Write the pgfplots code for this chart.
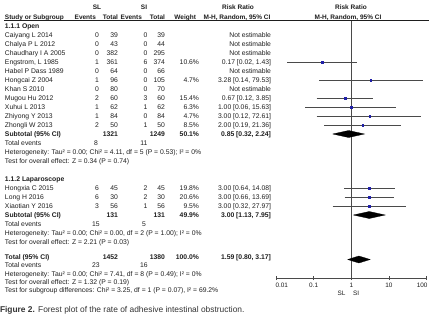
\documentclass[border=0pt]{standalone}
\usepackage{pgfplots}
\pgfplotsset{compat=1.18}
\usepackage{pgfplotstable}
\usepackage{fontspec}
\setmainfont{Liberation Sans}

\definecolor{txt}{HTML}{1E1E1E}
\definecolor{capc}{HTML}{333333}
\definecolor{sq}{HTML}{2020A8}
\definecolor{ciline}{HTML}{4A4A4A}

\newcommand\tab{\fontsize{6.8}{8}\selectfont}
\newcommand\head{\fontsize{6.5}{8}\selectfont\bfseries}
\newcommand\ticks{\fontsize{6.4}{7.5}\selectfont}
\newcommand\capfont{\fontsize{8.4}{10}\selectfont}

% study estimates: row position, risk ratio, 95% CI, weight (%)
\pgfplotstableread{
row   est   lo    hi     w
62    0.17  0.02  1.43   10.6
80    3.28  0.14  79.53  4.7
98    0.67  0.12  3.85   15.4
107   1.00  0.06  15.63  6.3
116   3.00  0.12  72.61  4.7
125   2.00  0.19  21.36  8.5
188   3.00  0.64  14.08  19.8
197   3.00  0.66  13.69  20.6
206   3.00  0.32  27.97  9.5
}\studies

% one table row: [font] centre-y, study, events/total SL, events/total SI, weight, RR
\newcommand\trow[9][]{%
  \node[anchor=base west] at (5,{#2+2.4}) {#1#3};
  \node[anchor=base east] at (99,{#2+2.4}) {#1#4};
  \node[anchor=base east] at (118,{#2+2.4}) {#1#5};
  \node[anchor=base east] at (147.5,{#2+2.4}) {#1#6};
  \node[anchor=base east] at (165,{#2+2.4}) {#1#7};
  \node[anchor=base east] at (199,{#2+2.4}) {#1#8};
  \node[anchor=base east] at (271,{#2+2.4}) {#1#9};
}
\newcommand\events[3]{%
  \node[anchor=base west] at (5,{#1+2.4}) {Total events};
  \node[anchor=base] at (96,{#1+2.4}) {#2};
  \node[anchor=base] at (144,{#1+2.4}) {#3};
}
\newcommand\note[2]{\node[anchor=base west] at (5,{#1+2.4}) {#2};}

\begin{document}
\begin{tikzpicture}[x=1pt,y=-1pt,
  every node/.style={inner sep=0pt, outer sep=0pt, text=txt, font=\tab}]

% column headings
\node[anchor=base, font=\head] at (97,9.4) {SL};
\node[anchor=base, font=\head] at (144,9.4) {SI};
\node[anchor=base, font=\head] at (238,9.4) {Risk Ratio};
\node[anchor=base, font=\head] at (351,9.4) {Risk Ratio};
\node[anchor=base west, font=\head] at (5,19.2) {Study or Subgroup};
\node[anchor=base east, font=\head] at (96,19.2) {Events};
\node[anchor=base east, font=\head] at (118,19.2) {Total};
\node[anchor=base east, font=\head] at (142,19.2) {Events};
\node[anchor=base east, font=\head] at (165,19.2) {Total};
\node[anchor=base east, font=\head] at (196,19.2) {Weight};
\node[anchor=base, font=\head] at (237,19.2) {M-H, Random, 95\% CI};
\node[anchor=base, font=\head] at (348,19.2) {M-H, Random, 95\% CI};
\draw[txt, line width=0.6pt] (4,20.7) -- (429,20.7);

% 1.1.1 Open
\note{26.5}{\bfseries 1.1.1 Open}
\trow{35}{Caiyang L 2014}{0}{39}{0}{39}{}{Not estimable}
\trow{44}{Chalya P L 2012}{0}{43}{0}{44}{}{Not estimable}
\trow{53}{Chaudhary I A 2005}{0}{382}{0}{295}{}{Not estimable}
\trow{62}{Engstrom, L 1985}{1}{361}{6}{374}{10.6\%}{0.17 [0.02, 1.43]}
\trow{71}{Habel P Dass 1989}{0}{64}{0}{66}{}{Not estimable}
\trow{80}{Hongcai Z 2004}{1}{96}{0}{105}{4.7\%}{3.28 [0.14, 79.53]}
\trow{89}{Khan S 2010}{0}{80}{0}{70}{}{Not estimable}
\trow{98}{Mugou Hu 2012}{2}{60}{3}{60}{15.4\%}{0.67 [0.12, 3.85]}
\trow{107}{Xuhui L 2013}{1}{62}{1}{62}{6.3\%}{1.00 [0.06, 15.63]}
\trow{116}{Zhiyong Y 2013}{1}{84}{0}{84}{4.7\%}{3.00 [0.12, 72.61]}
\trow{125}{Zhongli W 2013}{2}{50}{1}{50}{8.5\%}{2.00 [0.19, 21.36]}
\trow[\bfseries]{134}{Subtotal (95\% CI)}{}{1321}{}{1249}{50.1\%}{0.85 [0.32, 2.24]}
\events{143}{8}{11}
\note{152}{Heterogeneity: Tau² = 0.00; Chi² = 4.11, df = 5 (P = 0.53); I² = 0\%}
\note{161}{Test for overall effect: Z = 0.34 (P = 0.74)}

% 1.1.2 Laparoscope
\note{179}{\bfseries 1.1.2 Laparoscope}
\trow{188}{Hongxia C 2015}{6}{45}{2}{45}{19.8\%}{3.00 [0.64, 14.08]}
\trow{197}{Long H 2016}{6}{30}{2}{30}{20.6\%}{3.00 [0.66, 13.69]}
\trow{206}{Xiaotian Y 2016}{3}{56}{1}{56}{9.5\%}{3.00 [0.32, 27.97]}
\trow[\bfseries]{215}{Subtotal (95\% CI)}{}{131}{}{131}{49.9\%}{3.00 [1.13, 7.95]}
\events{224}{15}{5}
\note{233}{Heterogeneity: Tau² = 0.00; Chi² = 0.00, df = 2 (P = 1.00); I² = 0\%}
\note{242}{Test for overall effect: Z = 2.21 (P = 0.03)}

% overall
\trow[\bfseries]{257}{Total (95\% CI)}{}{1452}{}{1380}{100.0\%}{1.59 [0.80, 3.17]}
\events{265.5}{23}{16}
\note{274}{Heterogeneity: Tau² = 0.00; Chi² = 7.41, df = 8 (P = 0.49); I² = 0\%}
\note{282}{Test for overall effect: Z = 1.32 (P = 0.19)}
\note{290.5}{Test for subgroup differences: Chi² = 3.25, df = 1 (P = 0.07), I² = 69.2\%}

% forest plot panel
\begin{axis}[
  at={(276pt,-278pt)}, anchor=south west,
  scale only axis, width=150.6pt, height=257.3pt,
  xmode=log, xmin=0.01, xmax=100,
  ymin=-278, ymax=-20.7,
  axis x line*=bottom, axis y line=none,
  axis line style={draw=ciline, line width=0.6pt},
  xtick={0.01,0.1,1,10,100}, xticklabels={,0.1,1,10,},
  xminorticks=false,
  tick align=center, major tick length=4pt,
  tick style={draw=ciline, line width=0.6pt},
  xticklabel style={font=\ticks, text=txt, inner sep=0pt, yshift=-3.2pt},
  /pgf/number format/assume math mode=true,
  clip=false,
]
% line of no effect
\addplot[ciline, line width=0.6pt] coordinates {(1,-20.7) (1,-278)};

% confidence intervals
\addplot[ciline, line width=0.55pt] coordinates {(0.02,-62) (1.43,-62)};
\addplot[ciline, line width=0.55pt] coordinates {(0.14,-80) (79.53,-80)};
\addplot[ciline, line width=0.55pt] coordinates {(0.12,-98) (3.85,-98)};
\addplot[ciline, line width=0.55pt] coordinates {(0.06,-107) (15.63,-107)};
\addplot[ciline, line width=0.55pt] coordinates {(0.12,-116) (72.61,-116)};
\addplot[ciline, line width=0.55pt] coordinates {(0.19,-125) (21.36,-125)};
\addplot[ciline, line width=0.55pt] coordinates {(0.64,-188) (14.08,-188)};
\addplot[ciline, line width=0.55pt] coordinates {(0.66,-197) (13.69,-197)};
\addplot[ciline, line width=0.55pt] coordinates {(0.32,-206) (27.97,-206)};

% point estimates, square size by weight
\addplot[scatter, only marks, mark=square*,
  scatter/use mapped color={draw=sq, fill=sq},
  mark options={line width=0.2pt},
  visualization depends on={1.25*sqrt(\thisrow{w}/20) \as \ms},
  scatter/@pre marker code/.append style={/tikz/mark size=\ms}]
  table[x=est, y expr=-\thisrow{row}] \studies;

% pooled estimates
\addplot[fill=black, draw=black, line width=0.3pt]
  coordinates {(0.32,-134) (0.85,-130.5) (2.24,-134) (0.85,-137.5) (0.32,-134)};
\addplot[fill=black, draw=black, line width=0.3pt]
  coordinates {(1.13,-215) (3.00,-211.5) (7.95,-215) (3.00,-218.5) (1.13,-215)};
\addplot[fill=black, draw=black, line width=0.3pt]
  coordinates {(0.80,-259.5) (1.59,-256) (3.17,-259.5) (1.59,-263) (0.80,-259.5)};
\end{axis}

% end labels of the ratio scale sit inside the axis ends
\node[anchor=base west, font=\ticks] at (275.5,287.6) {0.01};
\node[anchor=base east, font=\ticks] at (427.5,287.6) {100};
\node[anchor=base east, font=\ticks] at (345.5,295) {SL};
\node[anchor=base west, font=\ticks] at (353,295) {SI};

\node[anchor=base west, font=\capfont, text=capc] at (0,312)
  {\textbf{Figure 2.} Forest plot of the rate of adhesive intestinal obstruction.};

\pgfresetboundingbox
\path (0,0) rectangle (429,317);
\end{tikzpicture}
\end{document}
